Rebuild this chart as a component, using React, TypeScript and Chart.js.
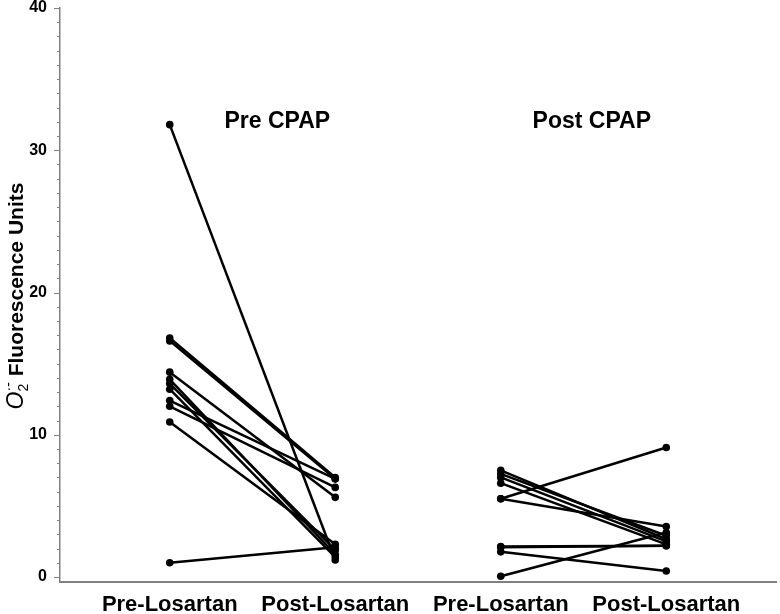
import React, { useEffect, useRef } from "react";
import { Chart, registerables } from "chart.js";

Chart.register(...registerables);

const categories = ["Pre-Losartan", "Post-Losartan", "Pre-Losartan", "Post-Losartan"];
const groupLabels = ["Pre CPAP", "Post CPAP"];
const yMajorTicks = [0, 10, 20, 30, 40];

const preCpapPreLos = [31.8, 16.8, 16.6, 14.4, 13.9, 13.6, 13.2, 12.4, 12.0, 10.9, 1.0];
const preCpapPostLos = [1.2, 7.0, 6.9, 5.6, 1.6, 1.9, 1.4, 6.9, 6.3, 2.3, 2.1];
const postCpapPreLos = [7.5, 7.25, 7.0, 6.6, 5.5, 5.5, 2.15, 2.1, 1.77, 0.05];
const postCpapPostLos = [2.66, 2.9, 2.5, 2.3, 9.1, 3.55, 2.2, 2.2, 0.42, 3.13];

const FONT = "'Liberation Sans', Arial, Helvetica, sans-serif";

export default function App() {
  const ref = useRef<HTMLCanvasElement | null>(null);

  useEffect(() => {
    if (!ref.current) return;
    const mk = (a: number[], b: number[], x0: number) =>
      a.map((v, i) => ({
        data: [
          { x: x0, y: v },
          { x: x0 + 1, y: b[i] },
        ],
        borderColor: "#000",
        backgroundColor: "#000",
        borderWidth: 2.5,
        pointRadius: 3.8,
        pointBorderWidth: 0,
        pointBackgroundColor: "#000",
        showLine: true,
      }));
    const datasets = [...mk(preCpapPreLos, preCpapPostLos, 1), ...mk(postCpapPreLos, postCpapPostLos, 3)];

    const decor = {
      id: "decor",
      afterDraw(chart: any) {
        const ctx = chart.ctx;
        const y = chart.scales.y;
        const x = chart.scales.x;
        const left = chart.chartArea.left;
        ctx.save();
        // y ticks (major + minor)
        ctx.strokeStyle = "#808080";
        ctx.lineWidth = 1;
        for (let v = 0; v <= 40; v++) {
          const py = Math.round(y.getPixelForValue(v)) + 0.5;
          const len = v % 10 === 0 ? 6 : 3;
          ctx.beginPath();
          ctx.moveTo(left - len, py);
          ctx.lineTo(left, py);
          ctx.stroke();
        }
        // y tick labels
        ctx.fillStyle = "#000";
        ctx.font = `bold 16px ${FONT}`;
        ctx.textAlign = "right";
        ctx.textBaseline = "middle";
        yMajorTicks.forEach((v) => {
          ctx.fillText(String(v), left - 13, y.getPixelForValue(v));
        });
        // group titles
        ctx.font = `bold 23px ${FONT}`;
        ctx.textAlign = "center";
        ctx.fillText(groupLabels[0], x.getPixelForValue(1.65), y.getPixelForValue(32.0));
        ctx.fillText(groupLabels[1], x.getPixelForValue(3.55), y.getPixelForValue(32.0));
        // y axis title
        ctx.translate(17, 296);
        ctx.rotate(-Math.PI / 2);
        ctx.textAlign = "left";
        const main = " Fluorescence Units";
        const fMain = `bold 21px ${FONT}`;
        const fO = `italic 23px ${FONT}`;
        const fSmall = `14px ${FONT}`;
        ctx.font = fO;
        const wO = ctx.measureText("O").width;
        ctx.font = fSmall;
        const w2 = ctx.measureText("2").width;
        const wSup = ctx.measureText("\u00B7-").width;
        ctx.font = fMain;
        const wMain = ctx.measureText(main).width;
        const total = wO + Math.max(w2, wSup) + wMain;
        let cx = -total / 2;
        ctx.font = fO;
        ctx.fillText("O", cx, 0);
        cx += wO;
        ctx.font = fSmall;
        ctx.fillText("2", cx, 7);
        ctx.fillText("\u00B7-", cx, -8);
        cx += Math.max(w2, wSup);
        ctx.font = fMain;
        ctx.fillText(main, cx, 0);
        ctx.restore();
      },
    };

    const chart = new Chart(ref.current, {
      type: "scatter",
      data: { datasets: datasets as any },
      options: {
        animation: false,
        responsive: false,
        layout: { padding: { top: 8, right: 2, left: 0, bottom: 0 } },
        plugins: { legend: { display: false }, tooltip: { enabled: false } },
        scales: {
          x: {
            type: "linear",
            min: 0.337,
            max: 4.663,
            afterBuildTicks: (s: any) => {
              s.ticks = categories.map((_, i) => ({ value: i + 1 }));
            },
            afterFit: (s: any) => {
              s.height = 32;
            },
            ticks: {
              callback: (_v: any, i: number) => categories[i],
              font: { family: FONT, size: 22, weight: "bold" },
              color: "#000",
              padding: 10,
              maxRotation: 0,
              autoSkip: false,
            },
            grid: { display: false, drawTicks: false },
            border: { display: true, color: "#808080", width: 2 },
          },
          y: {
            min: -0.35,
            max: 40,
            afterBuildTicks: (s: any) => {
              s.ticks = yMajorTicks.map((v) => ({ value: v }));
            },
            afterFit: (s: any) => {
              s.width = 60;
            },
            ticks: { display: false },
            grid: { display: false, drawTicks: false },
            border: { display: true, color: "#808080", width: 1.5 },
          },
        },
      },
      plugins: [decor],
    });
    return () => chart.destroy();
  }, []);

  return (
    <div style={{ position: "fixed", left: 0, top: 0, width: 780, height: 614, background: "#fff" }}>
      <canvas ref={ref} width={780} height={614} style={{ display: "block" }} />
    </div>
  );
}
